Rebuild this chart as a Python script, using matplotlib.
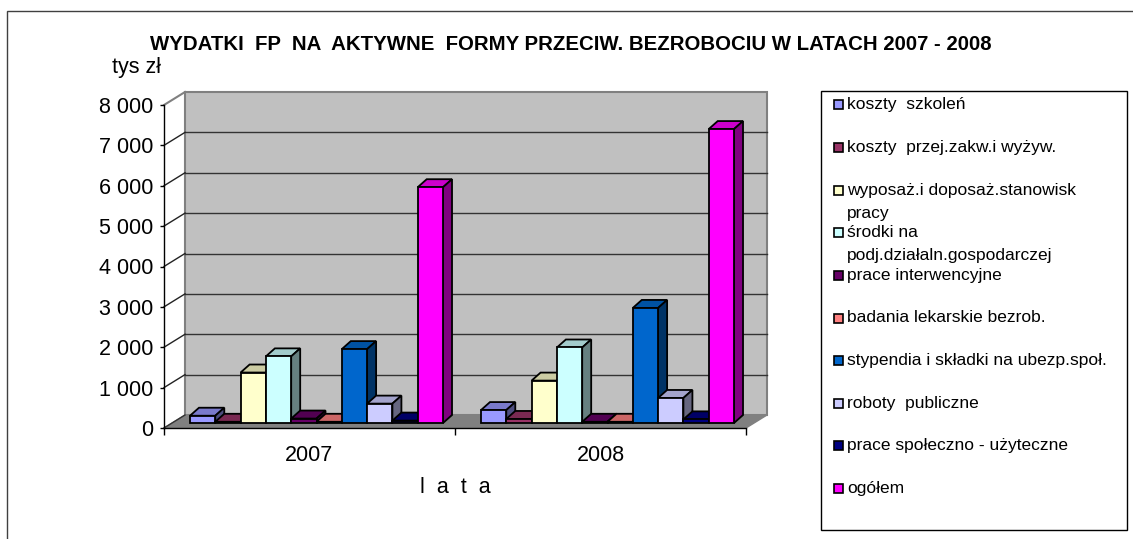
import matplotlib
matplotlib.use('Agg')
import matplotlib.pyplot as plt
from matplotlib.patches import Rectangle, Polygon
from matplotlib.lines import Line2D
from matplotlib.transforms import ScaledTranslation, IdentityTransform
from matplotlib import font_manager
import matplotlib.colors as mcolors
import numpy as np

plt.rcParams['font.family'] = ['Liberation Sans', 'DejaVu Sans']

# ---------------- data ----------------
title = 'WYDATKI  FP  NA  AKTYWNE  FORMY PRZECIW. BEZROBOCIU W LATACH 2007 - 2008'
years = ['2007', '2008']
series = ['koszty  szkoleń',
          'koszty  przej.zakw.i wyżyw.',
          'wyposaż.i doposaż.stanowisk\npracy',
          'środki na\npodj.działaln.gospodarczej',
          'prace interwencyjne',
          'badania lekarskie bezrob.',
          'stypendia i składki na ubezp.społ.',
          'roboty  publiczne',
          'prace społeczno - użyteczne',
          'ogółem']
values_2007 = [180, 30, 1250, 1650, 110, 30, 1830, 480, 60, 5840]
values_2008 = [320, 100, 1050, 1870, 30, 30, 2850, 620, 90, 7280]
colors = ['#9999FF', '#993366', '#FFFFCC', '#CCFFFF', '#660066',
          '#FF8080', '#0066CC', '#CCCCFF', '#000080', '#FF00FF']
yticks = [0, 1000, 2000, 3000, 4000, 5000, 6000, 7000, 8000]
ytick_labels = ['0', '1 000', '2 000', '3 000', '4 000', '5 000', '6 000', '7 000', '8 000']
ylabel = 'tys zł'
xlabel = 'l  a  t  a'

# ---------------- layout ----------------
W, H = 1133, 539
DPI = 100
fig = plt.figure(figsize=(W / DPI, H / DPI), dpi=DPI)
fig.patch.set_facecolor('white')

# outer chart border
fig.add_artist(Rectangle((7 / W, -0.1), 1.2, (H - 11) / H + 0.1, transform=fig.transFigure,
                         fill=False, ec='#404040', lw=1.0))

ax = fig.add_axes([164 / W, (H - 428) / H, (746 - 164) / W, (428 - 105) / H])
ax.set_xlim(0, 2)
ax.set_ylim(0, 8000)
ax.patch.set_visible(False)
for s in ['top', 'right']:
    ax.spines[s].set_visible(False)
for s in ['left', 'bottom']:
    ax.spines[s].set_color('black')
    ax.spines[s].set_linewidth(1.0)
    ax.spines[s].set_zorder(10)

FS = 15.5
ax.set_yticks(yticks)
ax.set_yticklabels(ytick_labels, fontsize=FS)
ax.tick_params(axis='y', direction='out', length=3, width=1, pad=4.5)
ax.set_xticks([0, 1, 2])
ax.set_xticklabels([])
ax.tick_params(axis='x', which='major', direction='out', length=5, width=1)
ax.set_xticks([0.5, 1.5], minor=True)
ax.set_xticklabels(years, minor=True, fontsize=FS)
ax.tick_params(axis='x', which='minor', length=0, pad=12)
ax.set_xlabel(xlabel, fontsize=FS, labelpad=8)

fig.text(112 / W, 1 - 67 / H, ylabel, fontsize=FS, ha='left', va='center')

# depth offsets in pixels
WALL = (21, 13)
BAR_FRONT = (7, 5)
BAR_DEPTH = (9, 8)

IDT = IdentityTransform()


def P(x, v, off=(0, 0)):
    d = ax.transData.transform((x, v))
    return (d[0] + off[0], d[1] + off[1])


def add_poly(pts, **kw):
    p = Polygon(pts, closed=True, transform=IDT, clip_on=False, **kw)
    ax.add_artist(p)
    return p


def add_line(p0, p1, **kw):
    l = Line2D([p0[0], p1[0]], [p0[1], p1[1]], transform=IDT, clip_on=False, **kw)
    ax.add_artist(l)
    return l


# back wall
add_poly([P(0, 0, WALL), P(2, 0, WALL), P(2, 8000, WALL), P(0, 8000, WALL)],
         fc='#C0C0C0', ec='#808080', lw=1.5, zorder=0.5)
# gridlines on back wall
for v in yticks[1:-1]:
    add_line(P(0, v, WALL), P(2, v, WALL), color='#333333', lw=1.0, zorder=0.6)
# left wall diagonal lines
for v in yticks[1:-1]:
    add_line(P(0, v), P(0, v, WALL), color='#222222', lw=1.0, zorder=0.6)
add_line(P(0, 8000), P(0, 8000, WALL), color='#808080', lw=1.5, zorder=0.6)
# floor
add_poly([P(0, 0), P(2, 0), P(2, 0, WALL), P(0, 0, WALL)],
         fc='#808080', ec='#808080', lw=1.0, zorder=0.7)
add_line(P(0, 0), P(0, 0, WALL), color='#333333', lw=1.0, zorder=0.8)

# ---------------- bars ----------------
nser = len(series)
gap = 1.5
bw = 1.0 / (nser + gap)
bar_tr = ax.transData + ScaledTranslation(BAR_FRONT[0] / DPI, BAR_FRONT[1] / DPI, fig.dpi_scale_trans)
data = [values_2007, values_2008]


def shade(c, f):
    r, g, b = mcolors.to_rgb(c)
    return (r * f, g * f, b * f)


for i in range(nser):
    xs = [g + (gap / 2 + i) * bw for g in range(len(years))]
    vals = [data[g][i] for g in range(len(years))]
    bars = ax.bar(xs, vals, width=bw, align='edge', color=colors[i], edgecolor='black',
                  linewidth=1.3, transform=bar_tr, clip_on=False)
    for g, rect in enumerate(bars):
        z = 2 + 0.01 * (g * nser + i)
        rect.set_zorder(z + 0.002)
        x0, v = xs[g], vals[g]
        off = BAR_FRONT
        off2 = (BAR_FRONT[0] + BAR_DEPTH[0], BAR_FRONT[1] + BAR_DEPTH[1])
        # top face
        add_poly([P(x0, v, off), P(x0 + bw, v, off), P(x0 + bw, v, off2), P(x0, v, off2)],
                 fc=shade(colors[i], 0.8), ec='black', lw=1.3, zorder=z)
        # right side face
        add_poly([P(x0 + bw, 0, off), P(x0 + bw, v, off), P(x0 + bw, v, off2), P(x0 + bw, 0, off2)],
                 fc=shade(colors[i], 0.5), ec='black', lw=1.3, zorder=z + 0.001)

# ---------------- title ----------------
names = {f.name for f in font_manager.fontManager.ttflist}
title_family = ['Liberation Sans Narrow', 'Liberation Sans', 'DejaVu Sans'] \
    if 'Liberation Sans Narrow' in names else ['Liberation Sans', 'DejaVu Sans']
t = fig.text(571 / W, 1 - 44 / H, title, ha='center', va='center', fontweight='bold',
             fontsize=14, family=title_family)
r = fig.canvas.get_renderer()
bb = t.get_window_extent(r)
t.set_fontsize(min(16.5, 14 * 843 / bb.width))

# ---------------- legend ----------------
LX0, LY0, LX1, LY1 = 821, 91, 1127, 530
fig.add_artist(Rectangle((LX0 / W, 1 - LY1 / H), (LX1 - LX0) / W, (LY1 - LY0) / H,
                         transform=fig.transFigure, fill=False, ec='black', lw=1.0))
row0, row_step = 105, 42.6
for i, lab in enumerate(series):
    y = row0 + i * row_step
    fig.add_artist(Rectangle((834 / W, 1 - (y + 4.5) / H), 9 / W, 9 / H, transform=fig.transFigure,
                             fc=colors[i], ec='black', lw=1.2))
    lines = lab.split('\n')
    for j, ln in enumerate(lines):
        fig.text(847 / W, 1 - (y + j * 23) / H, ln, fontsize=12.5, ha='left', va='center')

fig.savefig('out.png', dpi=DPI)
